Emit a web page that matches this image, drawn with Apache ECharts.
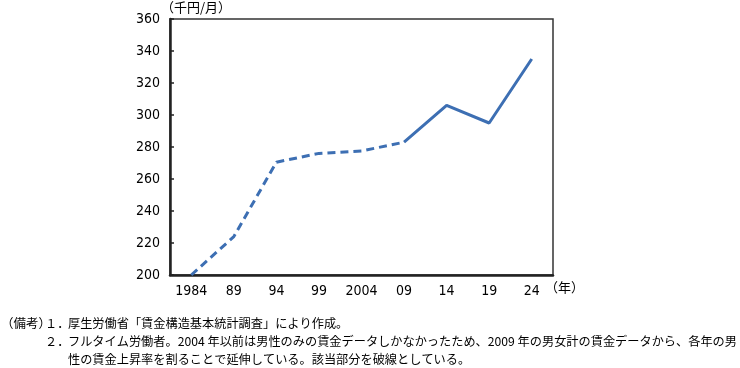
<!DOCTYPE html>
<html><head><meta charset="utf-8">
<script src="https://cdn.jsdelivr.net/npm/echarts@6/dist/echarts.min.js"></script>
<style>html,body{margin:0;padding:0;background:#fff}#c{width:740px;height:368px}</style>
</head><body><div id="c"></div>
<script>
const categories = ['1984','89','94','99','2004','09','14','19','24'];
const estimated = [200, 224, 270.5, 276, 277.5, 283, null, null, null];
const actual = [null, null, null, null, null, 283, 306, 295, 335];
const yTicks = { min: 200, max: 360, interval: 20 };
const unitLabel = '（千円/月）';
const yearLabel = '（年）';
const notes = [
  ['（備考）', '１．', '厚生労働省「賃金構造基本統計調査」により作成。'],
  ['', '２．', 'フルタイム労働者。2004 年以前は男性のみの賃金データしかなかったため、2009 年の男女計の賃金データから、各年の男'],
  ['', '', '性の賃金上昇率を割ることで延伸している。該当部分を破線としている。']
];

const numFont = '"DejaVu Sans","Liberation Sans",sans-serif';
const jpFont = '"Noto Sans CJK JP",sans-serif';
const lineColor = '#3d6fb3';

const graphics = [
  { type: 'text', left: 161, top: 1, style: { text: unitLabel, font: '13px ' + jpFont, fill: '#000' } },
  { type: 'text', left: 545, top: 281, style: { text: yearLabel, font: '13px ' + jpFont, fill: '#000' } }
];
const rowY = [317, 335, 353];
notes.forEach((row, i) => {
  if (row[0]) graphics.push({ type: 'text', left: 1, top: rowY[i], style: { text: row[0], font: '12.5px ' + jpFont, fill: '#000' } });
  if (row[1]) graphics.push({ type: 'text', left: 45, top: rowY[i], style: { text: row[1], font: '12.2px ' + jpFont, fill: '#000' } });
  if (row[2]) graphics.push({ type: 'text', left: 68, top: rowY[i], style: { text: row[2], font: '12.2px ' + jpFont, fill: '#000' } });
});

const chart = echarts.init(document.getElementById('c'));
chart.setOption({
  animation: false,
  grid: { left: 170, right: 187, top: 19, bottom: 93, show: true, borderColor: '#333', borderWidth: 1.5, backgroundColor: 'transparent' },
  xAxis: {
    type: 'category', data: categories, boundaryGap: true,
    axisLine: { lineStyle: { color: '#222', width: 2.5 } },
    axisTick: { show: false },
    axisLabel: { color: '#000', fontFamily: numFont, fontWeight: 'condensed', fontSize: 14, margin: 9 },
    splitLine: { show: false }
  },
  yAxis: {
    type: 'value', min: yTicks.min, max: yTicks.max, interval: yTicks.interval,
    axisLine: { show: true, lineStyle: { color: '#222', width: 2.5 } },
    axisTick: { show: true, inside: true, length: 4, lineStyle: { color: '#222', width: 1.5 } },
    axisLabel: { color: '#000', fontFamily: numFont, fontWeight: 'condensed', fontSize: 14, margin: 10 },
    splitLine: { show: false }
  },
  series: [
    { type: 'line', data: estimated, symbol: 'none', connectNulls: false,
      lineStyle: { color: lineColor, width: 3, type: [8, 5] } },
    { type: 'line', data: actual, symbol: 'none', connectNulls: false,
      lineStyle: { color: lineColor, width: 3, type: 'solid' } }
  ],
  graphic: graphics
});
</script></body></html>
